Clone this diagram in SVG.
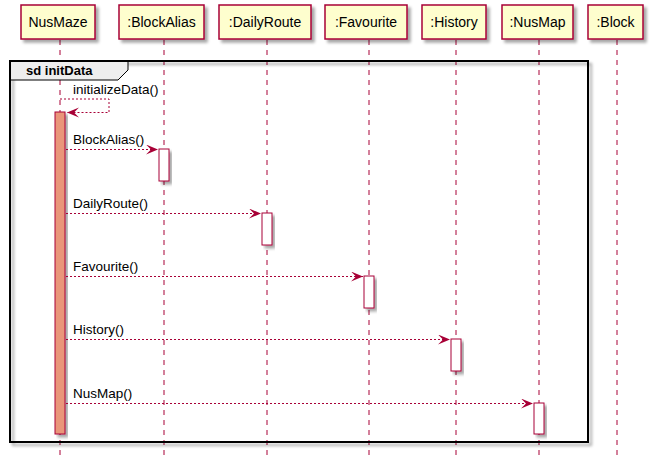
<svg xmlns="http://www.w3.org/2000/svg" width="656" height="467" viewBox="0 0 656 467">
<defs>
<filter id="sh" x="-20%" y="-20%" width="150%" height="150%">
<feGaussianBlur in="SourceAlpha" stdDeviation="1.5"/>
<feOffset dx="3" dy="3" result="b"/>
<feComponentTransfer><feFuncA type="linear" slope="0.35"/></feComponentTransfer>
<feMerge><feMergeNode/><feMergeNode in="SourceGraphic"/></feMerge>
</filter>
<marker id="ah" markerWidth="14" markerHeight="12" refX="12" refY="5" orient="auto" markerUnits="userSpaceOnUse">
<polygon points="12,5 0,0 5,5 0,10" fill="#A80036"/>
</marker>
</defs>
<style>
.box{fill:#FEFECE;stroke:#A80036;stroke-width:1.5}
.lbl{font-family:"Liberation Sans",Arial,sans-serif;font-size:14px;fill:#000}
.life{stroke:#A80036;stroke-width:1;stroke-dasharray:5,5;fill:none}
.msg{stroke:#A80036;stroke-width:1;stroke-dasharray:2,2;fill:none}
.mt{font-family:"Liberation Sans",Arial,sans-serif;font-size:13.5px;fill:#000}
.act{fill:#FFFFFF;stroke:#A80036;stroke-width:1}
</style>
<rect width="656" height="467" fill="#FFFFFF"/>
<g id="lifelines">
<line class="life" x1="60" y1="40" x2="60" y2="460"/>
<line class="life" x1="164" y1="40" x2="164" y2="460"/>
<line class="life" x1="267" y1="40" x2="267" y2="460"/>
<line class="life" x1="369" y1="40" x2="369" y2="460"/>
<line class="life" x1="456" y1="40" x2="456" y2="460"/>
<line class="life" x1="539" y1="40" x2="539" y2="460"/>
<line class="life" x1="617" y1="40" x2="617" y2="460"/>
</g>
<g id="frame">
<rect x="10" y="61" width="578" height="381" fill="none" stroke="#000" stroke-width="2" filter="url(#sh)"/>
<polygon points="10,61 128,61 128,70 118,80 10,80" fill="#EEEEEE" stroke="#000" stroke-width="1"/>
<rect x="10" y="61" width="578" height="381" fill="none" stroke="#000" stroke-width="2"/>
<text x="26" y="75" font-family="'Liberation Sans',Arial,sans-serif" font-size="13" font-weight="bold">sd initData</text>
</g>
<g id="NusMaze">
<rect class="box" x="21" y="5" width="74" height="34" filter="url(#sh)"/>
<text class="lbl" x="58" y="27" text-anchor="middle">NusMaze</text>
<rect x="55" y="112" width="10" height="322" fill="#E9967A" stroke="#A80036" stroke-width="1" filter="url(#sh)"/>
</g>
<g id="BlockAlias">
<rect class="box" x="119" y="5" width="85" height="34" filter="url(#sh)"/>
<text class="lbl" x="161.5" y="27" text-anchor="middle">:BlockAlias</text>
<rect class="act" x="159" y="149" width="10" height="32" filter="url(#sh)"/>
</g>
<g id="DailyRoute">
<rect class="box" x="219" y="5" width="92" height="34" filter="url(#sh)"/>
<text class="lbl" x="265" y="27" text-anchor="middle">:DailyRoute</text>
<rect class="act" x="262" y="213" width="10" height="32" filter="url(#sh)"/>
</g>
<g id="Favourite">
<rect class="box" x="325" y="5" width="82" height="34" filter="url(#sh)"/>
<text class="lbl" x="366" y="27" text-anchor="middle">:Favourite</text>
<rect class="act" x="364" y="276" width="10" height="32" filter="url(#sh)"/>
</g>
<g id="History">
<rect class="box" x="422" y="5" width="64" height="34" filter="url(#sh)"/>
<text class="lbl" x="454" y="27" text-anchor="middle">:History</text>
<rect class="act" x="451" y="339" width="10" height="32" filter="url(#sh)"/>
</g>
<g id="NusMap">
<rect class="box" x="502" y="5" width="71" height="34" filter="url(#sh)"/>
<text class="lbl" x="537.5" y="27" text-anchor="middle">:NusMap</text>
<rect class="act" x="534" y="403" width="10" height="31" filter="url(#sh)"/>
</g>
<g id="Block">
<rect class="box" x="588" y="5" width="55" height="34" filter="url(#sh)"/>
<text class="lbl" x="615.5" y="27" text-anchor="middle">:Block</text>
</g>
<g id="connectors">
<polyline class="msg" points="60,99 109,99 109,112.5 67,112.5" marker-end="url(#ah)"/>
<text class="mt" x="73" y="94">initializeData()</text>
<line class="msg" x1="66" y1="149.5" x2="158" y2="149.5" marker-end="url(#ah)"/>
<text class="mt" x="73" y="144">BlockAlias()</text>
<line class="msg" x1="66" y1="213.5" x2="261" y2="213.5" marker-end="url(#ah)"/>
<text class="mt" x="73" y="208">DailyRoute()</text>
<line class="msg" x1="66" y1="276.5" x2="363" y2="276.5" marker-end="url(#ah)"/>
<text class="mt" x="73" y="271">Favourite()</text>
<line class="msg" x1="66" y1="339.5" x2="450" y2="339.5" marker-end="url(#ah)"/>
<text class="mt" x="73" y="334">History()</text>
<line class="msg" x1="66" y1="403.5" x2="533" y2="403.5" marker-end="url(#ah)"/>
<text class="mt" x="73" y="398">NusMap()</text>
</g>
</svg>
